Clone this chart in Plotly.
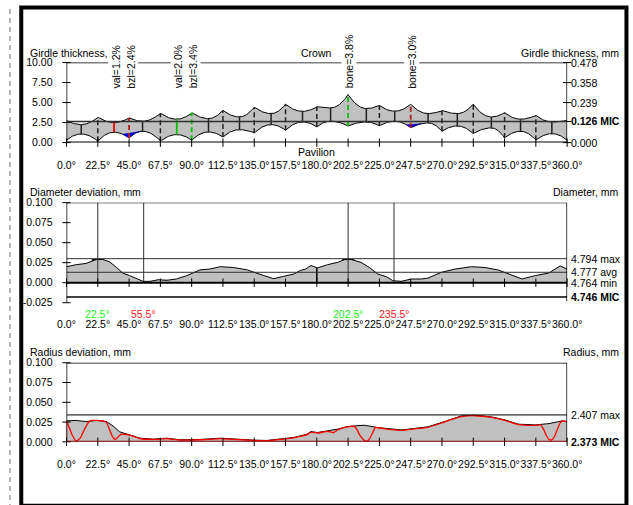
import numpy as np
import plotly.graph_objects as go

W, H = 650, 515
FONT = "Liberation Sans, Arial, sans-serif"
FS = 10.5

# mapping from reference-picture pixels to figure pixels (the photo is scaled/offset)
SX, OX, SY, OY = 0.958, 9.8, 0.976, 5.5
def dx(px):
    return (px - OX) / SX
def dy(py):
    return (py - OY) / SY
def pxp(px):
    return dx(px) / W
def pyp(py):
    return 1 - dy(py) / H

# ---------------- data ----------------
tick_angles = [0, 22.5, 45, 67.5, 90, 112.5, 135, 157.5, 180, 202.5, 225, 247.5, 270, 292.5, 315, 337.5, 360]
tick_text = [f"{a:.1f}°" for a in tick_angles]

# Girdle thickness (% of diameter)
main_angles = [0, 22.5, 45, 67.5, 90, 112.5, 135, 157.5, 180, 202.5, 225, 247.5, 270, 292.5, 315, 337.5, 360]
crown_main = [2.75, 3.2, 3.1, 3.7, 3.75, 4.04, 4.46, 4.8, 4.5, 6.0, 4.67, 4.8, 4.04, 4.8, 3.75, 3.42, 2.75]
pav_main = [0.3, 0.17, 0.58, 0.17, 0.3, 0.7, 1.17, 1.54, 1.96, 2.08, 2.08, 1.84, 1.42, 1.12, 0.58, 0.3, 0.3]
valley_angles = [10.6, 34.2, 54.7, 79.3, 102.1, 124.4, 147.1, 169.7, 189.9, 215.6, 236.0, 260.0, 281.0, 305.5, 326.5, 349.0]
crown_valley = [2.25, 2.5, 2.67, 2.92, 3.0, 3.2, 3.62, 3.9, 4.33, 4.25, 3.92, 3.62, 3.62, 3.2, 2.92, 2.58]
pav_valley = [1.08, 1.3, 1.42, 1.0, 1.33, 1.62, 2.25, 2.58, 2.67, 2.58, 2.67, 2.46, 2.08, 1.84, 1.42, 1.12]

gt_left_ticks = [0, 2.5, 5, 7.5, 10]
gt_left_text = ["0.00", "2.50", "5.00", "7.50", "10.00"]
gt_right_mm = [0.000, 0.126, 0.239, 0.358, 0.478]
gt_right_text = ["0.000", "<b>0.126 MIC</b>", "0.239", "0.358", "0.478"]
gt_full_pct = 10.0
gt_full_mm = 0.478
gt_mic_mm = 0.126

gt_labels = ["val=1.2%", "bzl=2.4%", "val=2.0%", "bzl=3.4%", "bone=3.8%", "bone=3.0%"]
gt_label_angles = [34.2, 45, 79.3, 90, 202.5, 247.5]
gt_label_colors = ["#ff0000", "#b02020", "#00c000", "#00c000", "#00c000", "#b02020"]
gt_label_dashed = [False, True, False, True, True, True]
blue_spans = [(40.5, 53.5), (244.5, 255.0)]

# Diameter deviation (mm)
diam_angles = [0, 7, 14, 21.5, 26, 31, 36, 40.7, 45.5, 50.4, 55, 60, 66, 72, 79, 86.5, 96, 103, 110.6, 120,
               130, 137, 144, 149, 156, 163.5, 168.4, 172, 175.7, 180.5, 187.7, 195, 199.7, 204.6, 211.8, 217.8,
               223.9, 230, 234.7, 240.7, 248, 255.2, 260, 269.7, 279.3, 291.3, 301, 310.6, 320, 327.5, 337,
               346.8, 355, 360]
diam_dev = [0.020, 0.0225, 0.024, 0.029, 0.029, 0.026, 0.019, 0.0117, 0.0088, 0.0046, 0.0017, 0.0017, 0.0037,
            0.003, 0.0046, 0.0088, 0.016, 0.017, 0.020, 0.019, 0.016, 0.0117, 0.0079, 0.005, 0.0079, 0.0108,
            0.0155, 0.017, 0.0215, 0.0185, 0.0225, 0.0254, 0.0288, 0.029, 0.0254, 0.019, 0.0108, 0.0075,
            0.0025, 0.0017, 0.0046, 0.0046, 0.0058, 0.013, 0.017, 0.020, 0.019, 0.0158, 0.0096, 0.0046,
            0.0088, 0.0121, 0.021, 0.017]
diam_max, diam_avg, diam_min, diam_mic = 4.794, 4.777, 4.764, 4.746
diam_left_ticks = [-0.025, 0, 0.025, 0.05, 0.075, 0.1]
diam_left_text = ["-0.025", "0.000", "0.025", "0.050", "0.075", "0.100"]
diam_mark_angles = [22.5, 55.5, 202.5, 235.5]
diam_mark_text = ["22.5°", "55.5°", "202.5°", "235.5°"]
diam_mark_colors = ["#22ee22", "#ff2020", "#22ee22", "#ff2020"]
green_centers = [22.5, 202.5]
green_heights = [0.029, 0.029]
red_centers = [69.0, 249.0]
red_heights = [0.003, 0.003]
bar_width = 8
opposite_angle = 180

# Radius deviation (mm)
rad_angles = [0, 7, 14, 21.5, 28.7, 33.5, 38.3, 43, 48, 52.8, 62.4, 72, 81.7, 96, 110.7, 120, 134.7, 144, 154,
              163.5, 168.4, 173, 175.7, 180.5, 187.7, 195, 202, 214, 224, 233.5, 241, 250.3, 260, 269.7, 277,
              284, 293.6, 305.6, 315.3, 325, 337, 346.8, 356.4, 360]
rad_dev = [0.0265, 0.027, 0.0256, 0.027, 0.0256, 0.020, 0.0126, 0.0097, 0.0076, 0.0046, 0.0034, 0.0046, 0.0025,
           0.003, 0.0046, 0.0034, 0.0021, 0.0017, 0.0034, 0.0055, 0.0076, 0.0097, 0.013, 0.0118, 0.0139, 0.016,
           0.0193, 0.021, 0.018, 0.016, 0.015, 0.017, 0.019, 0.0244, 0.029, 0.0328, 0.0336, 0.0315, 0.0277,
           0.0223, 0.0214, 0.023, 0.0265, 0.0256]
red_angles = [0, 0, 2, 4, 7, 10, 13, 16, 18, 22, 27, 29, 31, 33, 35, 37, 39, 43, 48, 52.8, 62.4, 72, 81.7, 96,
              110.7, 120, 134.7, 144, 154, 163.5, 168.4, 173, 175.7, 180.5, 187.7, 192, 195, 202, 207, 209, 211,
              214, 216, 218, 220, 222, 224, 233.5, 241, 250.3, 260, 269.7, 277, 284, 293.6, 305.6, 315.3, 325,
              337, 341, 343, 345, 347, 349, 351, 353, 355, 356.5, 360]
red_dev = [0, 0.0262, 0.018, 0.009, 0.001, 0.005, 0.016, 0.025, 0.027, 0.027, 0.026, 0.024, 0.015, 0.007, 0.003,
           0.006, 0.0095, 0.0092, 0.0072, 0.0042, 0.0030, 0.0040, 0.0022, 0.0026, 0.0040, 0.0030, 0.0018,
           0.0014, 0.0030, 0.0050, 0.0070, 0.0090, 0.0122, 0.0110, 0.0133, 0.0115, 0.0152, 0.0188, 0.0195,
           0.015, 0.008, 0.002, 0.0005, 0.004, 0.011, 0.018, 0.0178, 0.0155, 0.0145, 0.0163, 0.0184, 0.0238,
           0.0284, 0.0320, 0.0330, 0.0310, 0.0272, 0.0218, 0.0208, 0.0212, 0.016, 0.008, 0.003, 0.0025, 0.007,
           0.016, 0.024, 0.0265, 0.0256]
rad_max, rad_mic = 2.407, 2.373
rad_left_ticks = [0, 0.025, 0.05, 0.075, 0.1]
rad_left_text = ["0.000", "0.025", "0.050", "0.075", "0.100"]

# ---------------- helpers ----------------
def girdle_curves():
    nodes = [(a, c, p, "m") for a, c, p in zip(main_angles, crown_main, pav_main)]
    nodes += [(a, c, p, "v") for a, c, p in zip(valley_angles, crown_valley, pav_valley)]
    nodes.sort(key=lambda n: n[0])
    xs, cs, ps = [], [], []
    for n0, n1 in zip(nodes[:-1], nodes[1:]):
        t = np.linspace(0, 1, 30)
        x = n0[0] + (n1[0] - n0[0]) * t
        if n0[3] == "m":
            m, v, s = n0, n1, 1 - t
        else:
            m, v, s = n1, n0, t
        c = v[1] + (m[1] - v[1]) * s ** 2
        p = v[2] - (v[2] - m[2]) * s ** 2
        xs += list(x); cs += list(c); ps += list(p)
    return np.array(xs), np.array(cs), np.array(ps)

gx, gc, gp = girdle_curves()
mm_to_pct = gt_full_pct / gt_full_mm

fig = go.Figure()
LINE = dict(color="black", width=1)

# ---------------- plot 1: girdle ----------------
fig.add_trace(go.Scatter(x=gx, y=gp, mode="lines", line=LINE, xaxis="x", yaxis="y", hoverinfo="skip"))
fig.add_trace(go.Scatter(x=gx, y=gc, mode="lines", line=LINE, fill="tonexty", fillcolor="#c0c0c0",
                         xaxis="x", yaxis="y", hoverinfo="skip"))
for a, b in blue_spans:
    xs = np.linspace(a, b, 40)
    ps = np.interp(xs, gx, gp)
    fig.add_trace(go.Scatter(x=[a, b] + list(xs[::-1]), y=[ps[0], ps[-1]] + list(ps[::-1]), mode="lines",
                             fill="toself", fillcolor="#0000ff", line=dict(color="#000080", width=0.5),
                             xaxis="x", yaxis="y", hoverinfo="skip"))

def seg_xy(angles):
    X, Y = [], []
    for a in angles:
        X += [a, a, None]
        Y += [float(np.interp(a, gx, gp)), float(np.interp(a, gx, gc)), None]
    return X, Y

plain_valleys = [a for a in valley_angles if a not in gt_label_angles]
plain_mains = [a for a in main_angles[1:-1] if a not in gt_label_angles]
X, Y = seg_xy(plain_valleys)
fig.add_trace(go.Scatter(x=X, y=Y, mode="lines", line=dict(color="#202020", width=1.5), xaxis="x", yaxis="y", hoverinfo="skip"))
X, Y = seg_xy(plain_mains)
fig.add_trace(go.Scatter(x=X, y=Y, mode="lines", line=dict(color="#202020", width=1.5, dash="5px,3px"), xaxis="x", yaxis="y", hoverinfo="skip"))
for a, col, dsh in zip(gt_label_angles, gt_label_colors, gt_label_dashed):
    X, Y = seg_xy([a])
    fig.add_trace(go.Scatter(x=X, y=Y, mode="lines", line=dict(color=col, width=1.8, dash="5px,3px" if dsh else "solid"),
                             xaxis="x", yaxis="y", hoverinfo="skip"))

gt_right_pct = [v * mm_to_pct for v in gt_right_mm]

def tick_marks(xa, ya, xvals, yvals, sym):
    fig.add_trace(go.Scatter(x=xvals, y=yvals, mode="markers", xaxis=xa, yaxis=ya, cliponaxis=False,
                             marker=dict(symbol=sym, size=6, line=dict(color="black", width=1)), hoverinfo="skip"))

tick_marks("x", "y", tick_angles, [0] * len(tick_angles), "line-ns")
tick_marks("x", "y", [0] * len(gt_left_ticks), gt_left_ticks, "line-ew")
tick_marks("x", "y", [360] * len(gt_right_pct), gt_right_pct, "line-ew")

# ---------------- plot 2: diameter ----------------
fig.add_trace(go.Scatter(x=diam_angles, y=diam_dev, mode="lines", line=LINE, fill="tozeroy", fillcolor="#c0c0c0",
                         xaxis="x2", yaxis="y2", hoverinfo="skip"))
fig.add_trace(go.Bar(x=green_centers, y=green_heights, width=bar_width, marker=dict(color="#00ff00", line=dict(color="black", width=1)),
                     xaxis="x2", yaxis="y2", hoverinfo="skip"))
fig.add_trace(go.Bar(x=red_centers, y=red_heights, width=bar_width, marker=dict(color="#ff0000", line=dict(color="#400000", width=0.5)),
                     xaxis="x2", yaxis="y2", hoverinfo="skip"))
opp_val = float(np.interp(opposite_angle, diam_angles, diam_dev))
fig.add_trace(go.Scatter(x=[opposite_angle, opposite_angle], y=[0, opp_val], mode="lines", line=dict(color="black", width=1.5),
                         xaxis="x2", yaxis="y2", hoverinfo="skip"))
X, Y = [], []
for a in diam_mark_angles:
    X += [a, a, None]; Y += [0, 0.1, None]
fig.add_trace(go.Scatter(x=X, y=Y, mode="lines", line=dict(color="#303030", width=1), xaxis="x2", yaxis="y2", hoverinfo="skip"))
d_max, d_avg, d_mic = diam_max - diam_min, diam_avg - diam_min, diam_mic - diam_min
tick_marks("x2", "y2", tick_angles, [0] * len(tick_angles), "line-ns")
tick_marks("x2", "y2", [0] * len(diam_left_ticks), diam_left_ticks, "line-ew")

# ---------------- plot 3: radius ----------------
fig.add_trace(go.Scatter(x=rad_angles, y=rad_dev, mode="lines", line=LINE, fill="tozeroy", fillcolor="#c0c0c0",
                         xaxis="x3", yaxis="y3", hoverinfo="skip"))
fig.add_trace(go.Scatter(x=red_angles, y=red_dev, mode="lines", line=dict(color="#ff0000", width=1.3, shape="spline", smoothing=0.4),
                         xaxis="x3", yaxis="y3", hoverinfo="skip"))
r_max = rad_max - rad_mic
tick_marks("x3", "y3", tick_angles, [0] * len(tick_angles), "line-ns")
tick_marks("x3", "y3", [0] * len(rad_left_ticks), rad_left_ticks, "line-ew")

# ---------------- shapes ----------------
shapes = []
def hline(xr, yr, y, col="black", w=1):
    shapes.append(dict(type="line", xref=xr, yref=yr, x0=0, x1=360, y0=y, y1=y, line=dict(color=col, width=w)))
def vline(xr, yr, x, y0, y1, col="black", w=1.5):
    shapes.append(dict(type="line", xref=xr, yref=yr, x0=x, x1=x, y0=y0, y1=y1, line=dict(color=col, width=w)))

hline("x", "y", 10, w=1.3)
hline("x", "y", 0, w=2)
hline("x", "y", gt_mic_mm * mm_to_pct, col="#303030", w=1.5)
vline("x", "y", 0, 0, 10)
vline("x", "y", 360, 0, 10)
hline("x2", "y2", 0.1, w=1.3)
hline("x2", "y2", d_max, col="#303030", w=1)
hline("x2", "y2", d_avg, col="#303030", w=1)
hline("x2", "y2", 0, w=2)
hline("x2", "y2", d_mic, w=1.5)
vline("x2", "y2", 0, -0.025, 0.1)
vline("x2", "y2", 360, -0.023, 0.1)
hline("x3", "y3", 0.1, w=1.3)
hline("x3", "y3", r_max, w=1)
hline("x3", "y3", 0, col="#800000", w=2)
vline("x3", "y3", 0, 0, 0.1)
vline("x3", "y3", 360, 0, 0.1)
shapes.append(dict(type="rect", xref="paper", yref="paper", x0=pxp(22), x1=pxp(624), y0=pyp(505), y1=1 - 1.5 / H,
                   line=dict(color="black", width=4)))
shapes.append(dict(type="line", xref="paper", yref="paper", x0=1 / W, x1=1 / W, y0=0, y1=1,
                   line=dict(color="#a0a0a0", width=1.5, dash="5px,4px")))

# ---------------- annotations ----------------
ann = []
def txt(text, x, y, xanchor="left", color="black", xref="paper", yref="paper", **kw):
    ann.append(dict(text=text, x=x, y=y, xref=xref, yref=yref, xanchor=xanchor, yanchor="middle",
                    showarrow=False, font=dict(family=FONT, size=FS, color=color), **kw))

txt("Girdle thickness, mm", pxp(29), pyp(52))
txt("Girdle thickness, mm", pxp(619), pyp(52), xanchor="right")
txt("Crown", 180, pyp(52), xanchor="center", xref="x")
txt("Pavilion", 180, pyp(151), xanchor="center", xref="x")
for v, t in zip(gt_right_pct, gt_right_text):
    txt(t, 1, v, xref="x domain", yref="y", xshift=2)
for a, t in zip(gt_label_angles, gt_labels):
    ann.append(dict(text=t, x=a, y=pyp(90), xref="x", yref="paper", xanchor="center", yanchor="bottom",
                    textangle=-90, showarrow=False, bgcolor="white", borderpad=1, xshift=1,
                    font=dict(family=FONT, size=FS, color="black")))

txt("Diameter deviation, mm", pxp(29), pyp(191))
txt("Diameter, mm", pxp(619), pyp(191), xanchor="right")
for v, t in zip([d_max, d_avg, 0, d_mic],
                [f"{diam_max:.3f} max", f"{diam_avg:.3f} avg", f"{diam_min:.3f} min", f"<b>{diam_mic:.3f} MIC</b>"]):
    txt(t, 1, v, xref="x2 domain", yref="y2", xshift=2)
for a, t, c in zip(diam_mark_angles, diam_mark_text, diam_mark_colors):
    txt(t, a, pyp(313), xanchor="center", color=c, xref="x2")

txt("Radius deviation, mm", pxp(29), pyp(351))
txt("Radius, mm", pxp(619), pyp(351), xanchor="right")
txt(f"{rad_max:.3f} max", 1, r_max, xref="x3 domain", yref="y3", xshift=2)
txt(f"<b>{rad_mic:.3f} MIC</b>", 1, 0, xref="x3 domain", yref="y3", xshift=2)

# ---------------- layout ----------------
xdom = [pxp(67), pxp(565)]
def xax(anchor, standoff):
    return dict(domain=xdom, range=[0, 360], anchor=anchor, tickvals=tick_angles, ticktext=tick_text,
                showgrid=False, zeroline=False, showline=False, ticks="", ticklabelstandoff=standoff,
                tickangle=0, tickfont=dict(family=FONT, size=FS, color="black"), fixedrange=True)
def yax(anchor, dom, rng, vals, text):
    return dict(domain=dom, range=rng, anchor=anchor, tickvals=vals, ticktext=text, showgrid=False,
                zeroline=False, showline=False, ticks="", ticklabelstandoff=13,
                tickfont=dict(family=FONT, size=FS, color="black"), fixedrange=True)

fig.update_layout(
    width=W, height=H, margin=dict(l=0, r=0, t=0, b=0), autosize=False,
    paper_bgcolor="white", plot_bgcolor="white", showlegend=False, barmode="overlay",
    font=dict(family=FONT, size=FS, color="black"),
    xaxis=xax("y", 15),
    yaxis=yax("x", [pyp(142), pyp(62)], [0, 10], gt_left_ticks, gt_left_text),
    xaxis2=xax("y2", 14),
    yaxis2=yax("x2", [pyp(302), pyp(202)], [-0.025, 0.1], diam_left_ticks, diam_left_text),
    xaxis3=xax("y3", 15),
    yaxis3=yax("x3", [pyp(441), pyp(362)], [0, 0.1], rad_left_ticks, rad_left_text),
    shapes=shapes, annotations=ann,
)

fig.write_html(
    "out.html",
    config={"displayModeBar": False, "responsive": False},
    post_script=("document.documentElement.style.margin='0';document.documentElement.style.overflow='hidden';"
                 "document.body.style.margin='0';document.body.style.padding='0';document.body.style.overflow='hidden';"),
)
